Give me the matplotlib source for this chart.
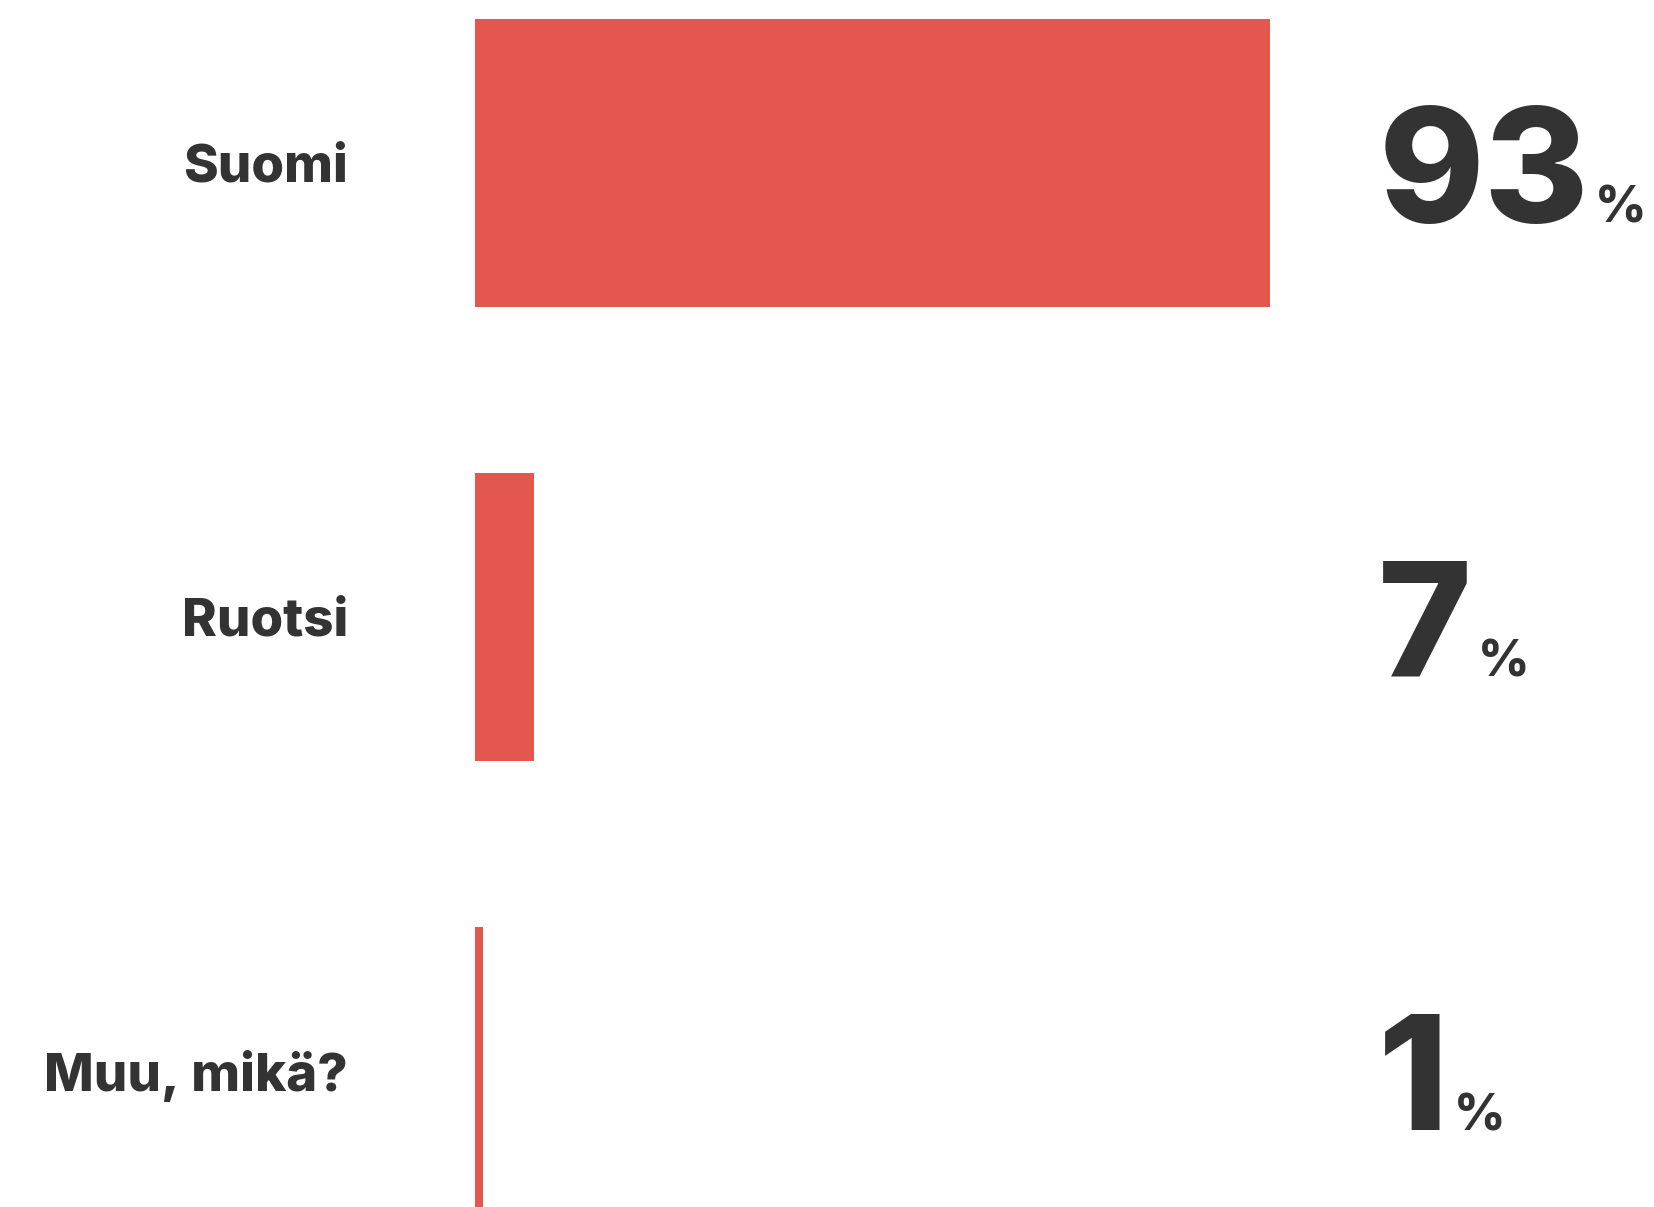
import matplotlib.pyplot as plt

# answers and shares (%)
categories = ['Suomi', 'Ruotsi', 'Muu, mikä?']
shares = [93, 7, 1]
value_labels = ['93', '7', '1']

BAR_COLOR = '#E4574F'
TEXT_COLOR = '#333333'
FONT = ['Inter', 'DejaVu Sans']

plt.rcParams['font.family'] = FONT

fig = plt.figure(figsize=(16.54, 12.07), dpi=100)
W, H = 1654, 1207
# axes: x=0 at 474.6 px, x=93 at 1270 px, full height
ax = fig.add_axes([474.6 / W, 0, (1270 - 474.6) / W, 1])

pos = list(range(len(categories)))
ax.barh(pos, shares, height=0.634, color=BAR_COLOR, linewidth=0)

ax.set_xlim(0, max(shares))
ax.set_ylim(2.2996, -0.359)

ax.set_yticks(pos)
ax.set_yticklabels(categories, fontsize=38, fontweight='heavy', color=TEXT_COLOR)
ax.tick_params(axis='y', length=0, pad=91)
ax.set_xticks([])
for s in ax.spines.values():
    s.set_visible(False)

# big value labels with small % sign
tr = ax.get_yaxis_transform()
for i, lab in enumerate(value_labels):
    y = i + 0.13
    t = ax.text(1.136, y, lab, transform=tr, fontsize=115, fontweight='heavy',
                color=TEXT_COLOR, va='baseline', ha='left', clip_on=False)
    ax.annotate('%', xy=(1, y), xycoords=(t, 'data'), xytext=(4, 0),
                textcoords='offset points', fontsize=36, fontweight='heavy',
                color=TEXT_COLOR, va='baseline', ha='left', annotation_clip=False)

fig.savefig('out.png', dpi=100, facecolor='white')
